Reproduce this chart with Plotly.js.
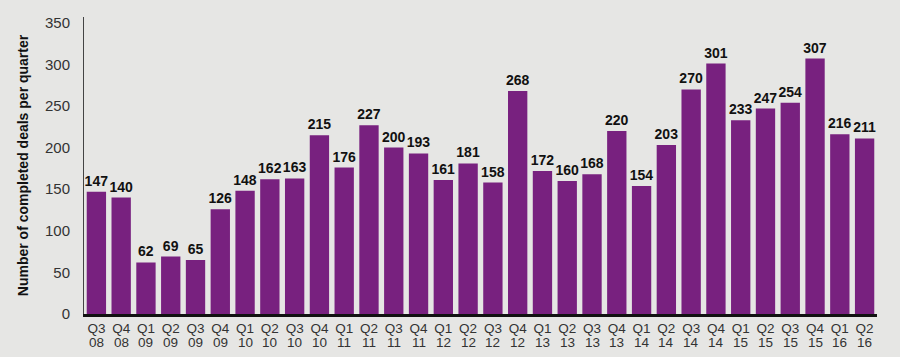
<!DOCTYPE html>
<html>
<head>
<meta charset="utf-8">
<script src="https://cdn.plot.ly/plotly-3.0.1.min.js"></script>
<style>html,body{margin:0;padding:0;background:#e6e6e4;}#chart{width:900px;height:357px;}</style>
</head>
<body>
<div id="chart"></div>
<script>
const quarters = ["Q3","Q4","Q1","Q2","Q3","Q4","Q1","Q2","Q3","Q4","Q1","Q2","Q3","Q4","Q1","Q2","Q3","Q4","Q1","Q2","Q3","Q4","Q1","Q2","Q3","Q4","Q1","Q2","Q3","Q4","Q1","Q2"];
const years = ["08","08","09","09","09","09","10","10","10","10","11","11","11","11","12","12","12","12","13","13","13","13","14","14","14","14","15","15","15","15","16","16"];
const deals = [147,140,62,69,65,126,148,162,163,215,176,227,200,193,161,181,158,268,172,160,168,220,154,203,270,301,233,247,254,307,216,211];
const yTicks = [0,50,100,150,200,250,300,350];

const idx = deals.map((_, i) => i);

const yearAnnotations = years.map((yr, i) => ({
  x: i, xref: 'x',
  y: 0, yref: 'paper',
  yanchor: 'middle', yshift: -28,
  text: yr, showarrow: false,
  borderpad: 0,
  font: {size: 13.5, color: '#333', family: 'Liberation Sans, Arial, sans-serif'}
}));

Plotly.newPlot('chart', [{
  type: 'bar',
  x: idx,
  y: deals,
  marker: {color: '#78217f'},
  text: deals.map(String),
  textposition: 'outside',
  constraintext: 'none',
  cliponaxis: false,
  textfont: {family: 'Liberation Sans, Arial, sans-serif', size: 14, color: '#111', weight: 'bold'},
  hoverinfo: 'none'
}], {
  width: 900, height: 357,
  paper_bgcolor: '#e6e6e4',
  plot_bgcolor: '#e6e6e4',
  margin: {l: 84, r: 23, t: 17, b: 43},
  bargap: 0.22,
  showlegend: false,
  font: {family: 'Liberation Sans, Arial, sans-serif', color: '#333'},
  annotations: yearAnnotations,
  xaxis: {
    range: [-0.5, deals.length - 0.5],
    tickvals: idx,
    ticktext: quarters,
    showline: true, linecolor: '#111', linewidth: 2.5,
    showgrid: false, zeroline: false, ticks: '',
    ticklabelstandoff: 0,
    tickfont: {size: 13.5, color: '#333'},
    tickangle: 0,
    automargin: false
  },
  yaxis: {
    range: [0, 357],
    tickvals: yTicks,
    ticktext: yTicks.map(String),
    showline: true, linecolor: '#444', linewidth: 1,
    showgrid: false, zeroline: false, ticks: '',
    ticklabelstandoff: 10,
    tickfont: {size: 15, color: '#333'},
    title: {text: 'Number of completed deals per quarter', font: {size: 14, color: '#111', weight: 'bold'}, standoff: 13},
    automargin: false
  }
}, {displayModeBar: false, staticPlot: true});
</script>
</body>
</html>
